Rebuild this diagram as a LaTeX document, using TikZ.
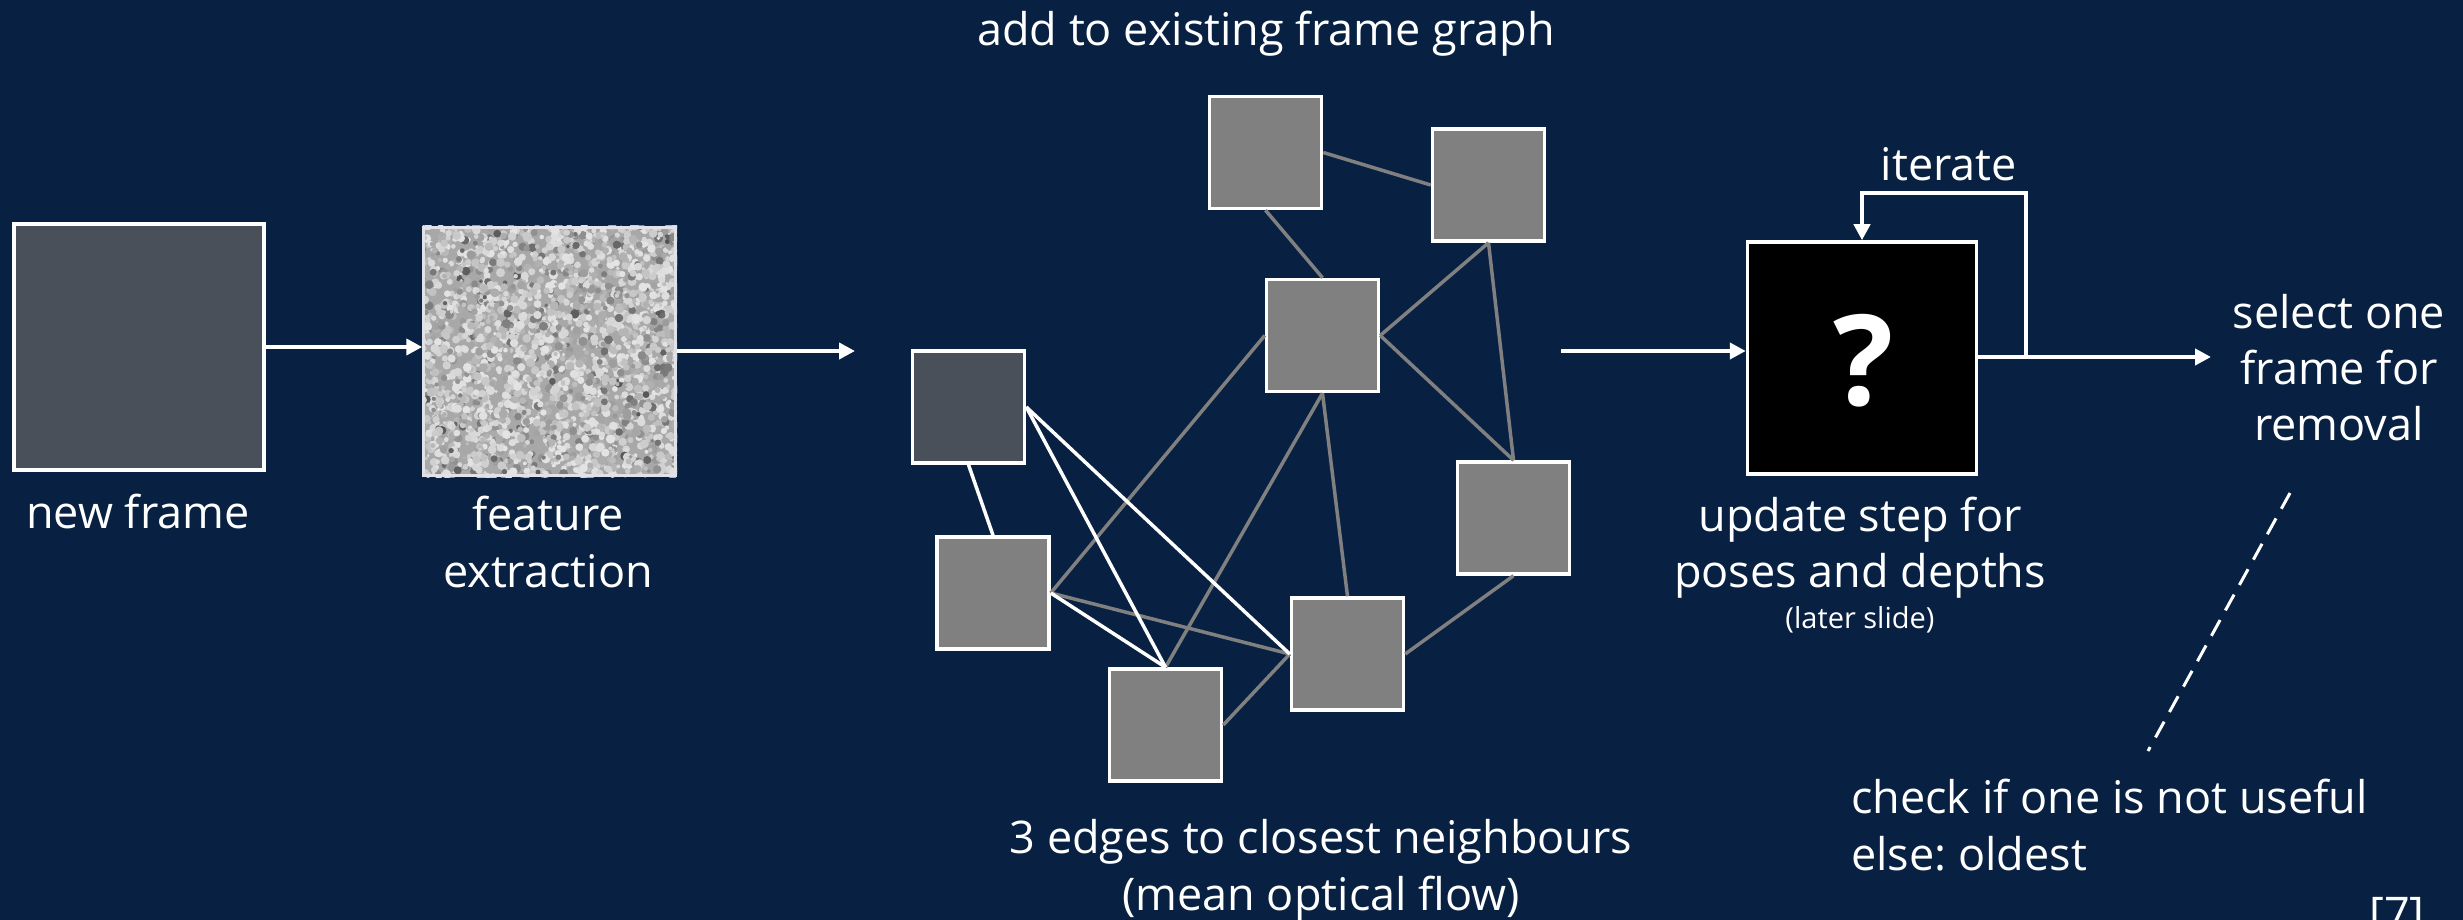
\documentclass[tikz,border=0pt]{standalone}
\usepackage{fontspec}
\setmainfont{Open Sans}
\usetikzlibrary{arrows.meta}

\definecolor{bgnavy}{RGB}{8,33,66}
\definecolor{framedark}{RGB}{73,80,90}
\definecolor{framegray}{RGB}{128,128,128}
\definecolor{featborder}{RGB}{225,226,232}

\begin{document}
\frenchspacing
\begin{tikzpicture}[x=1pt,y=-1pt,
  txt/.style={text=white, inner sep=0pt, font=\fontsize{45}{57}\selectfont},
  smalltxt/.style={text=white, inner sep=0pt, font=\fontsize{29}{36}\selectfont},
  kf/.style={draw=white, line width=3.5, fill=framegray, minimum size=112, inner sep=0},
  kfnew/.style={kf, fill=framedark},
  flow/.style={draw=white, line width=4, -{Triangle[length=16,width=16]}},
  gedge/.style={draw=framegray, line width=3.5},
  wedge/.style={draw=white, line width=3.5},
  hint/.style={draw=white, line width=3, dash pattern=on 18 off 11}
]
% background and page size
\fill[bgnavy] (0,0) rectangle (2463,920);
\useasboundingbox (0,0) rectangle (2463,920);

% incoming frame
\node[draw=white, line width=4.5, fill=framedark, minimum width=250, minimum height=246, inner sep=0] (nf) at (139,347) {};
\node[txt, anchor=base] (nfl) at (138,528) {new frame};

% feature map: speckled grey texture
\begin{scope}
  \clip (422,226) rectangle (677,477);
  \fill[white!66!black] (422,226) rectangle (677,477);
  \pgfmathsetseed{42}
  \foreach \i in {1,...,2600}{
    \pgfmathsetmacro\px{422+255*rnd}
    \pgfmathsetmacro\py{226+251*rnd}
    \pgfmathtruncatemacro\gl{90-58*rnd*rnd}
    \pgfmathsetmacro\rr{1.8+2.8*rnd}
    \fill[white!\gl!black] (\px,\py) circle[radius=\rr];
  }
\end{scope}
\node[draw=featborder, line width=2.5, minimum width=252, minimum height=248, inner sep=0] (feat) at (549.5,351.5) {};
\node[txt, anchor=base, align=center] (featl) at (548,587) {feature\\extraction};

\draw[flow] (nf.east) -- (nf.east -| feat.west);
\coordinate (gin) at (855,351);
\draw[flow] (feat.east |- gin) -- (gin);

% frame graph
\node[kf] (A) at (1265.5,152.5) {};
\node[kf] (B) at (1488.5,185) {};
\node[kf] (C) at (1322.5,335.5) {};
\node[kfnew] (D) at (968.5,407) {};
\node[kf] (E) at (1513.5,518) {};
\node[kf] (F) at (993,593) {};
\node[kf] (G) at (1347.5,654) {};
\node[kf] (H) at (1165.5,725) {};

\draw[gedge] (A.east) -- (B.west);
\draw[gedge] (A.south) -- (C.north);
\draw[gedge] (B.south) -- (C.east);
\draw[gedge] (B.south) -- (E.north);
\draw[gedge] (C.east) -- (E.north);
\draw[gedge] (C.west) -- (F.east);
\draw[gedge] (C.south) -- (H.north);
\draw[gedge] (C.south) -- (G.north);
\draw[gedge] (E.south) -- (G.east);
\draw[gedge] (F.east) -- (G.west);
\draw[gedge] (H.east) -- (G.west);

\draw[wedge] (D.south) -- (F.north);
\draw[wedge] (D.east) -- (H.north);
\draw[wedge] (D.east) -- (G.west);
\draw[wedge] (F.east) -- (H.north);

\node[txt, anchor=base] (title) at (1266,46) {add to existing frame graph};
\node[txt, anchor=base, align=center] (edgl) at (1321,910) {3 edges to closest neighbours\\(mean optical flow)};

% update step
\node[draw=white, line width=3.5, fill=black, minimum width=229, minimum height=232, inner sep=0] (bb) at (1862,358) {};
\node[text=white, inner sep=0, font=\fontsize{126}{130}\selectfont\bfseries] (qm) at (1864,361) {?};
\node[txt, anchor=base, align=center, font=\fontsize{45}{56}\selectfont] (updl) at (1860,587) {update step for\\poses and depths};
\node[smalltxt, anchor=base] (later) at (1860,628) {(later slide)};

\coordinate (gout) at (1561,351);
\draw[flow] (gout) -- (gout -| bb.west);

\coordinate (sel) at (2211,357);
\coordinate (split) at (2026,357);
\draw[flow] (bb.east |- sel) -- (sel);
\draw[flow] (split) -- ++(0,-164) -| (bb.north);
\node[txt, anchor=base] (iter) at (1949,181) {iterate};

% frame removal
\node[txt, anchor=base, align=center, font=\fontsize{45}{56}\selectfont] (sell) at (2339,440) {select one\\frame for\\removal};
\coordinate (dtop) at (2290,493);
\coordinate (dbot) at (2148,751);
\draw[hint] (dtop) -- (dbot);
\node[txt, anchor=base west, align=left] (chk) at (1851,870) {check if one is not useful\\else: oldest};
\node[txt, anchor=base west] (ref) at (2369,929) {[7]};
\end{tikzpicture}
\end{document}
